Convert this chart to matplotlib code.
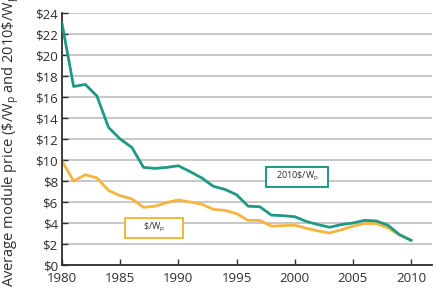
import matplotlib
matplotlib.use("Agg")
import matplotlib.pyplot as plt
from matplotlib.patches import Rectangle

plt.rcParams['font.family'] = ['Open Sans', 'DejaVu Sans']
plt.rcParams['mathtext.fontset'] = 'custom'
plt.rcParams['mathtext.rm'] = 'Open Sans'
plt.rcParams['mathtext.default'] = 'regular'

years = list(range(1980, 2011))
# 2010 dollars per peak watt
price_2010 = [23.0, 17.0, 17.2, 16.1, 13.1, 12.0, 11.2, 9.3, 9.2, 9.3,
              9.45, 8.9, 8.3, 7.5, 7.2, 6.7, 5.6, 5.55, 4.75, 4.7,
              4.6, 4.15, 3.85, 3.6, 3.85, 4.0, 4.25, 4.2, 3.8, 2.9, 2.35]
# nominal dollars per peak watt
price_nominal = [9.9, 8.0, 8.6, 8.3, 7.1, 6.6, 6.3, 5.5, 5.6, 5.95,
                 6.2, 6.0, 5.8, 5.3, 5.2, 4.9, 4.25, 4.25, 3.7, 3.75,
                 3.8, 3.5, 3.25, 3.05, 3.35, 3.7, 3.95, 3.95, 3.55, 2.85, 2.35]
yticks = list(range(0, 25, 2))
ytick_labels = ['\\$%d' % v for v in yticks]
xticks = [1980, 1985, 1990, 1995, 2000, 2005, 2010]

teal = '#1e9984'
orange = '#f6b53c'
dark = '#2e2e2e'

fig = plt.figure(figsize=(4.37, 3.05), dpi=100)
ax = fig.add_axes([0.1419, 0.1311, 0.8467, 0.8262])

ax.plot(years, price_2010, color=teal, linewidth=2.0, solid_joinstyle='round', zorder=3)
ax.plot(years, price_nominal, color=orange, linewidth=2.0, solid_joinstyle='round', zorder=2)

ax.set_xlim(1980, 2011.8)
ax.set_ylim(0, 24)
ax.set_yticks(yticks)
ax.set_yticklabels(ytick_labels)
ax.set_xticks(xticks)
ax.yaxis.grid(True, color='#c4c4c4', linewidth=1.3)
ax.set_axisbelow(True)
for s in ['top', 'right']:
    ax.spines[s].set_visible(False)
for s in ['left', 'bottom']:
    ax.spines[s].set_color(dark)
    ax.spines[s].set_linewidth(1.3)
ax.tick_params(direction='in', length=4, width=1, color=dark, labelcolor=dark, labelsize=9.5)
ax.tick_params(axis='y', pad=3)
ax.tick_params(axis='x', pad=5)

# legend-like boxed labels
ax.add_patch(Rectangle((1997.55, 7.45), 5.3, 1.9, fc='white', ec=teal, lw=1.4, zorder=4))
ax.text(2000.2, 8.4, r'2010\$/W$_\mathregular{p}$', fontsize=6.5, color=dark,
        ha='center', va='center', zorder=5)
ax.add_patch(Rectangle((1985.4, 2.6), 5.0, 1.9, fc='white', ec=orange, lw=1.4, zorder=4))
ax.text(1987.9, 3.55, r'\$/W$_\mathregular{p}$', fontsize=6.5, color=dark,
        ha='center', va='center', zorder=5)

fig.text(0.025, 18 / 305, r'Average module price (\$/W$_\mathregular{p}$ and 2010\$/W$_\mathregular{p}$)',
         rotation=90, ha='center', va='bottom', fontsize=10.5, color=dark)

fig.savefig('out.png', dpi=100)
